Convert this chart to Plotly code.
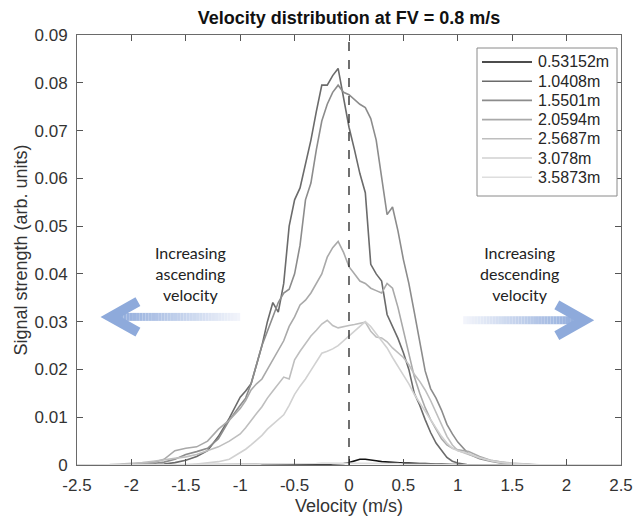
import plotly.graph_objects as go

# ---------------- data ----------------
velocity = [-2.5, -2.4, -2.3, -2.2, -2.1, -2.0, -1.9, -1.8, -1.7, -1.6, -1.5, -1.4, -1.3, -1.2, -1.1,
            -1.0, -0.95, -0.9, -0.85, -0.8, -0.75, -0.7, -0.65, -0.6, -0.55, -0.5, -0.45, -0.4, -0.35,
            -0.3, -0.25, -0.2, -0.15, -0.1, -0.05, 0.0, 0.05, 0.1, 0.15, 0.2, 0.25, 0.3, 0.35, 0.4,
            0.45, 0.5, 0.55, 0.6, 0.65, 0.7, 0.75, 0.8, 0.85, 0.9, 0.95, 1.0,
            1.1, 1.2, 1.3, 1.4, 1.5, 1.6, 1.7, 1.8, 1.9, 2.0, 2.1, 2.2, 2.3, 2.4, 2.5]

labels = ["0.53152m", "1.0408m", "1.5501m", "2.0594m", "2.5687m", "3.078m", "3.5873m"]

s_053 = [0, 0, 0, 0, 0, 0, 0, 0, 0, 0, 0, 0, 0.0001, 0.0001, 0.0001,
         0.0001, 0.0001, 0.0001, 0.0001, 0.0001, 0.0001, 0.0001, 0.0001, 0.0001, 0.0001, 0.0001, 0.0001, 0.0001, 0.0001,
         0.0001, 0.0001, 0.0001, 0.0002, 0.0002, 0.0003, 0.0005, 0.0009, 0.0012, 0.0012, 0.0011, 0.0009, 0.0007, 0.0006, 0.0005,
         0.0005, 0.0004, 0.0004, 0.0003, 0.0003, 0.0003, 0.0002, 0.0002, 0.0002, 0.0001, 0.0001, 0.0001,
         0, 0, 0, 0, 0, 0, 0, 0, 0, 0, 0, 0, 0, 0, 0]

s_104 = [0, 0, 0, 0, 0, 0, 0, 0, 0.0002, 0.0005, 0.001, 0.0018, 0.003, 0.006, 0.0098,
         0.0142, 0.0155, 0.017, 0.021, 0.025, 0.030, 0.034, 0.032, 0.038, 0.050, 0.0555, 0.058, 0.063, 0.068,
         0.074, 0.0795, 0.0795, 0.0815, 0.083, 0.077, 0.0707, 0.066, 0.061, 0.057, 0.042, 0.040, 0.0385, 0.0315, 0.029,
         0.0265, 0.0235, 0.020, 0.015, 0.0125, 0.0095, 0.0068, 0.0046, 0.003, 0.0016, 0.0008, 0.0004,
         0, 0, 0, 0, 0, 0, 0, 0, 0, 0, 0, 0, 0, 0, 0]

s_155 = [0, 0, 0, 0, 0, 0, 0.0001, 0.0003, 0.0006, 0.0012, 0.0022, 0.0028, 0.0035, 0.0055, 0.0094,
         0.0125, 0.014, 0.017, 0.021, 0.025, 0.028, 0.031, 0.034, 0.036, 0.0368, 0.040, 0.046, 0.0555, 0.059,
         0.066, 0.072, 0.0755, 0.078, 0.0795, 0.078, 0.0775, 0.0765, 0.0755, 0.0748, 0.0725, 0.068, 0.060, 0.0524, 0.054,
         0.049, 0.043, 0.038, 0.032, 0.026, 0.0197, 0.016, 0.014, 0.0115, 0.0085, 0.0065, 0.0048,
         0.0023, 0.0013, 0.0008, 0.0004, 0.0002, 0.0001, 0, 0, 0, 0, 0, 0, 0, 0, 0]

s_206 = [0, 0, 0, 0, 0.0001, 0.0002, 0.0003, 0.0005, 0.0012, 0.0030, 0.0035, 0.0038, 0.005, 0.0075, 0.0094,
         0.0118, 0.0135, 0.0157, 0.017, 0.018, 0.020, 0.022, 0.024, 0.026, 0.029, 0.031, 0.0335, 0.0345, 0.036,
         0.038, 0.040, 0.0435, 0.0455, 0.0468, 0.0445, 0.0415, 0.040, 0.0385, 0.038, 0.037, 0.0365, 0.036, 0.038, 0.037,
         0.033, 0.028, 0.023, 0.0185, 0.015, 0.012, 0.0095, 0.0075, 0.0055, 0.0042, 0.0035, 0.0032,
         0.0028, 0.0018, 0.001, 0.0006, 0.0003, 0.0002, 0, 0, 0, 0, 0, 0, 0, 0, 0]

s_257 = [0, 0, 0, 0.0001, 0.0002, 0.0003, 0.0005, 0.0008, 0.0011, 0.0014, 0.0017, 0.0022, 0.003, 0.0038, 0.005,
         0.0065, 0.0078, 0.0094, 0.0108, 0.0122, 0.014, 0.0155, 0.017, 0.0184, 0.018, 0.022, 0.0238, 0.0255, 0.027,
         0.0282, 0.0295, 0.0303, 0.0292, 0.0287, 0.029, 0.0292, 0.0294, 0.0297, 0.0299, 0.028, 0.0268, 0.0266, 0.0258, 0.0245,
         0.0235, 0.0225, 0.021, 0.019, 0.0175, 0.0157, 0.0135, 0.011, 0.0085, 0.006, 0.0042, 0.003,
         0.0022, 0.0015, 0.001, 0.0006, 0.0004, 0.0002, 0.0001, 0, 0, 0, 0, 0, 0, 0, 0]

s_308 = [0, 0, 0, 0, 0, 0, 0, 0, 0, 0, 0, 0.0002, 0.0004, 0.0007, 0.0012,
         0.0025, 0.0033, 0.0042, 0.0052, 0.0062, 0.0075, 0.0085, 0.0095, 0.0105, 0.0125, 0.0148, 0.0165, 0.018, 0.0198,
         0.0215, 0.0234, 0.0238, 0.0243, 0.025, 0.026, 0.0272, 0.0282, 0.0292, 0.030, 0.029, 0.0275, 0.026, 0.0245, 0.0225,
         0.0205, 0.0188, 0.017, 0.0148, 0.013, 0.0112, 0.0095, 0.0078, 0.006, 0.0046, 0.0035, 0.003,
         0.0024, 0.0015, 0.0009, 0.0005, 0.0003, 0.0002, 0, 0, 0, 0, 0, 0, 0, 0, 0]

s_359 = [0, 0, 0, 0, 0, 0, 0, 0, 0, 0, 0, 0, 0, 0.0001, 0.0001,
         0.0001, 0.0001, 0.0001, 0.0001, 0.0002, 0.0002, 0.0002, 0.0002, 0.0002, 0.0003, 0.0003, 0.0003, 0.0003, 0.0003,
         0.0003, 0.0004, 0.0004, 0.0004, 0.0004, 0.0004, 0.0004, 0.0004, 0.0004, 0.0004, 0.0004, 0.0003, 0.0003, 0.0003, 0.0003,
         0.0003, 0.0002, 0.0002, 0.0002, 0.0002, 0.0001, 0.0001, 0.0001, 0.0001, 0.0001, 0.0001, 0,
         0, 0, 0, 0, 0, 0, 0, 0, 0, 0, 0, 0, 0, 0, 0]

series = [s_053, s_104, s_155, s_206, s_257, s_308, s_359]
colors = ["#111111", "#6b6b6b", "#8c8c8c", "#a9a9a9", "#bebebe", "#d1d1d1", "#dedede"]

x_ticks = [-2.5, -2, -1.5, -1, -0.5, 0, 0.5, 1, 1.5, 2, 2.5]
y_ticks = [0, 0.01, 0.02, 0.03, 0.04, 0.05, 0.06, 0.07, 0.08, 0.09]

# ---------------- layout geometry (pixels) ----------------
W, H = 634, 517
L, R, T, B = 77, 13, 35, 52
PW, PH = W - L - R, H - T - B


def px_x(p):
    return (p - L) / PW


def px_y(p):
    return (H - B - p) / PH


# ---------------- figure ----------------
fig = go.Figure()
for name, ys, c in zip(labels, series, colors):
    fig.add_trace(go.Scatter(x=velocity, y=ys, mode="lines", name=name,
                             line=dict(color=c, width=1.6), showlegend=False))

shapes = []
annotations = []
# dashed zero line
shapes.append(dict(type="line", xref="x", yref="y", x0=0, x1=0, y0=0, y1=0.09,
                   line=dict(color="#111111", width=1.2, dash="dash")))


def hexmix(c1, c2, t):
    a = [int(c1[i:i + 2], 16) for i in (1, 3, 5)]
    b = [int(c2[i:i + 2], 16) for i in (1, 3, 5)]
    return "#" + "".join("%02x" % round(a[k] + (b[k] - a[k]) * t) for k in range(3))


LIGHT = "#f3f5fb"
BLUE = "#8eaadb"


def arrow(x_start, x_end, y, tip, arm_x, arm_dy, n=40):
    for i in range(n):
        xa = x_start + (x_end - x_start) * i / n
        xb = x_start + (x_end - x_start) * (i + 1) / n
        shapes.append(dict(type="line", xref="x", yref="y", x0=xa, x1=xb, y0=y, y1=y,
                           line=dict(color=hexmix(LIGHT, BLUE, (i + 0.5) / n), width=8)))
    shapes.append(dict(type="path", xref="x", yref="y",
                       path=f"M {arm_x},{y + arm_dy} L {tip},{y} L {arm_x},{y - arm_dy}",
                       line=dict(color=BLUE, width=10)))


arrow(-1.0, -2.16, 0.0310, -2.19, -1.94, 0.0032)
arrow(1.05, 2.12, 0.0303, 2.16, 1.91, 0.0032)

# text next to the arrows
annotations.append(dict(text="Increasing<br>ascending<br>velocity", x=-1.46, y=0.0400, xref="x", yref="y",
                        showarrow=False, font=dict(family="Lato, Open Sans, sans-serif", size=16, color="#222222")))
annotations.append(dict(text="Increasing<br>descending<br>velocity", x=1.57, y=0.0400, xref="x", yref="y",
                        showarrow=False, font=dict(family="Lato, Open Sans, sans-serif", size=16, color="#222222")))

# legend box (drawn from labels/colors)
LG_L, LG_R, LG_T, LG_B = 477, 617, 48, 196
shapes.append(dict(type="rect", xref="paper", yref="paper",
                   x0=px_x(LG_L), x1=px_x(LG_R), y0=px_y(LG_B), y1=px_y(LG_T),
                   fillcolor="white", line=dict(color="#8a8a8a", width=1), layer="above"))
row0, row_step = 62, 19.2
for i, (name, c) in enumerate(zip(labels, colors)):
    yy = px_y(row0 + i * row_step)
    shapes.append(dict(type="line", xref="paper", yref="paper",
                       x0=px_x(482), x1=px_x(532), y0=yy, y1=yy,
                       line=dict(color=c, width=1.6), layer="above"))
    annotations.append(dict(text=name, x=px_x(536), y=yy, xref="paper", yref="paper",
                            xanchor="left", yanchor="middle", showarrow=False,
                            font=dict(size=16, color="#262626")))

fig.update_layout(
    width=W, height=H,
    margin=dict(l=L, r=R, t=T, b=B, autoexpand=False),
    paper_bgcolor="white", plot_bgcolor="white",
    font=dict(family="Liberation Sans, Arial, sans-serif", color="#333333", size=17),
    title=dict(text="<b>Velocity distribution at FV = 0.8 m/s</b>", x=0.5, xref="paper",
               y=1 - 18 / H, yanchor="middle", xanchor="center",
               font=dict(size=18, color="#111111")),
    shapes=shapes,
    annotations=annotations,
    showlegend=False,
)

fig.update_xaxes(range=[-2.5, 2.5], tickvals=x_ticks, ticktext=[str(v) for v in x_ticks],
                 ticks="inside", ticklen=6, tickcolor="#555555",
                 showline=True, linecolor="#6a6a6a", linewidth=1, mirror="ticks",
                 showgrid=False, zeroline=False, ticklabelstandoff=5, automargin=False,
                 title=dict(text="Velocity (m/s)", font=dict(size=18), standoff=4),
                 tickfont=dict(size=17))
fig.update_yaxes(range=[0, 0.09], tickvals=y_ticks, ticktext=[f"{v:g}" for v in y_ticks],
                 ticks="inside", ticklen=6, tickcolor="#555555",
                 showline=True, linecolor="#6a6a6a", linewidth=1, mirror="ticks",
                 showgrid=False, zeroline=False, ticklabelstandoff=5, automargin=False,
                 title=dict(text="Signal strength (arb. units)", font=dict(size=18), standoff=2),
                 tickfont=dict(size=17))

fig.write_html("out.html")
